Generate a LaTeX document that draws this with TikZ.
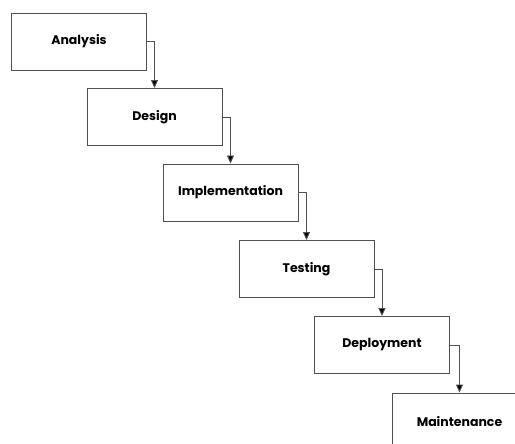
\documentclass[tikz,border=0pt]{standalone}
\usepackage{fontspec}
\setsansfont{Poppins}
\usetikzlibrary{arrows.meta}
\definecolor{edgegrey}{HTML}{505050}
\tikzset{
  stage/.style={draw=edgegrey, line width=0.9pt, fill=white, minimum width=135pt,
    minimum height=57pt, inner sep=0pt, font=\sffamily\bfseries\fontsize{12.5}{14}\selectfont},
  flow/.style={draw=edgegrey, line width=0.9pt, -{Triangle[length=8pt,width=7pt,fill=black]}}
}
\begin{document}
\begin{tikzpicture}[x=1pt,y=-1pt]
  \useasboundingbox (0,0) rectangle (515,444);
  \fill[white] (0,0) rectangle (515,444);
  \clip (0,0) rectangle (515,444);
  \node[stage] (ana) at (79,41.5) {Analysis};
  \node[stage] (des) at (154.5,117) {Design};
  \node[stage] (imp) at (230.5,192.5) {Implementation};
  \node[stage] (tes) at (306.5,269) {Testing};
  \node[stage] (dep) at (382,345) {Deployment};
  \node[stage] (mai) at (459.5,421.5) {Maintenance};
  \draw[flow] (ana.east) -| (des.north);
  \draw[flow] (des.east) -| (imp.north);
  \draw[flow] (imp.east) -| (tes.north);
  \draw[flow] (tes.east) -| (dep.north);
  \draw[flow] (dep.east) -| (mai.north);
\end{tikzpicture}
\end{document}
